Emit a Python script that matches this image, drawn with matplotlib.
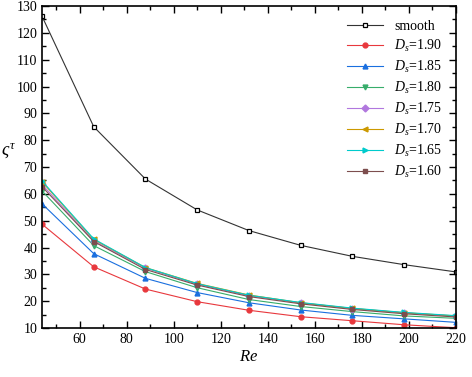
import matplotlib
matplotlib.use("Agg")
import matplotlib.pyplot as plt
from matplotlib.ticker import MultipleLocator

plt.rcParams['font.family'] = ['Liberation Serif', 'DejaVu Serif']
plt.rcParams['mathtext.fontset'] = 'custom'
plt.rcParams['mathtext.rm'] = 'Liberation Serif'
plt.rcParams['mathtext.it'] = 'Liberation Serif:italic'

# datos
re = [44, 66, 88, 110, 132, 154, 176, 198, 220]
smooth = [126.2, 85.0, 65.5, 54.0, 46.3, 40.8, 36.7, 33.6, 30.9]
ds_190 = [48.7, 32.8, 24.5, 19.8, 16.6, 14.2, 12.7, 11.2, 10.1]
ds_185 = [56.3, 37.7, 28.5, 23.2, 19.4, 16.7, 14.7, 13.4, 12.1]
ds_180 = [61.1, 40.7, 31.0, 25.0, 20.6, 18.0, 16.1, 14.5, 13.6]
ds_175 = [63.5, 42.5, 32.3, 26.3, 22.0, 19.3, 17.2, 15.6, 14.4]
ds_170 = [64.5, 43.0, 32.5, 26.6, 22.3, 19.4, 17.3, 15.7, 14.5]
ds_165 = [64.8, 43.2, 32.5, 26.5, 22.2, 19.5, 17.4, 15.8, 14.6]
ds_160 = [62.7, 42.2, 31.8, 26.0, 21.7, 19.0, 16.9, 15.3, 14.1]

labels = ["1.90", "1.85", "1.80", "1.75", "1.70", "1.65", "1.60"]
series = [ds_190, ds_185, ds_180, ds_175, ds_170, ds_165, ds_160]
colors = ["#E8383D", "#1A6FDF", "#37AD6B", "#B177DE", "#CC9900", "#00CBCC", "#7D4E4E"]
markers = ["o", "^", "v", "D", "<", ">", "s"]

fig = plt.figure(figsize=(4.72, 3.77), dpi=100)
ax = fig.add_axes([0.089, 0.130, 0.877, 0.854])

ax.plot(re, smooth, color="#333333", lw=0.8, marker="s", ms=3.5,
        mfc="white", mec="black", mew=0.9, label="smooth")
for lab, ys, c, m in zip(labels, series, colors, markers):
  ax.plot(re, ys, color=c, lw=0.8, marker=m, ms=3.5, mec=c, mfc=c,
          label="$D_s$=" + lab)

ax.set_xlim(44, 220)
ax.set_ylim(10, 130)
ax.xaxis.set_major_locator(MultipleLocator(20))
ax.xaxis.set_minor_locator(MultipleLocator(10))
ax.yaxis.set_major_locator(MultipleLocator(10))
ax.yaxis.set_minor_locator(MultipleLocator(5))
ax.tick_params(which="both", direction="in", top=True, right=True,
               labelsize=10, width=1)
ax.tick_params(which="major", length=5)
ax.tick_params(which="minor", length=3)
for sp in ax.spines.values():
  sp.set_linewidth(1.2)

ax.set_xlabel("$Re$", fontsize=12, labelpad=2)
ax.set_ylabel(r"$\varsigma^{\tau}$", fontsize=13, rotation=0)
ax.yaxis.set_label_coords(-0.082, 0.52)

ax.legend(loc="upper right", frameon=False, fontsize=10, handlelength=2.6,
          labelspacing=0.35, borderaxespad=0.6)

fig.savefig("out.png", dpi=100)
